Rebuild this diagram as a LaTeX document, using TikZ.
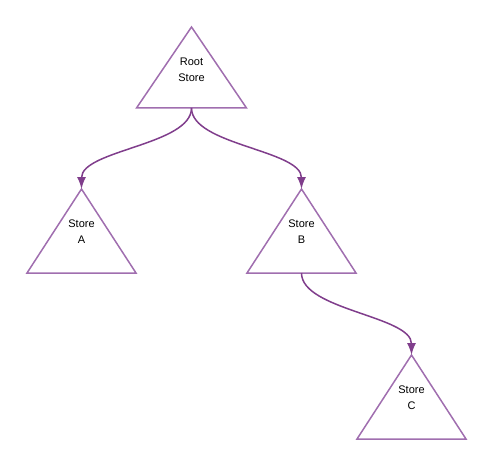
\documentclass[tikz,border=0pt]{standalone}
\usepackage{fontspec}
\setmainfont{Liberation Sans}
\usetikzlibrary{arrows.meta}
\definecolor{triline}{RGB}{160,110,175}
\definecolor{edgeline}{RGB}{128,62,140}
\begin{document}
\begin{tikzpicture}[x=1pt,y=-1pt,
  tri/.style={draw=triline,line width=1.5pt,line join=miter},
  lbl/.style={align=center,font=\fontsize{11}{16}\selectfont,inner sep=0pt},
  edge/.style={draw=edgeline,line width=1.5pt,-{Latex[length=12pt,width=9pt]}}]
\useasboundingbox (0,0) rectangle (495,468);
% Root
\coordinate (rtop) at (191.5,27);
\coordinate (rbot) at (191.5,108);
\draw[tri] (rtop) -- (246.5,108) -- (136.5,108) -- cycle;
\node[lbl] (root) at (191.5,70) {Root\\Store};
% Store A
\coordinate (atop) at (81.5,189);
\coordinate (abot) at (81.5,273);
\draw[tri] (atop) -- (136,273) -- (27,273) -- cycle;
\node[lbl] (sa) at (81.5,232) {Store\\A};
% Store B
\coordinate (btop) at (301.5,189);
\coordinate (bbot) at (301.5,273);
\draw[tri] (btop) -- (356,273) -- (247,273) -- cycle;
\node[lbl] (sb) at (301.5,232) {Store\\B};
% Store C
\coordinate (ctop) at (411.5,355);
\coordinate (cbot) at (411.5,439);
\draw[tri] (ctop) -- (466,439) -- (357,439) -- cycle;
\node[lbl] (sc) at (411.5,398) {Store\\C};
% connectors
\draw[edge] (rbot) .. controls (191.5,145) and (81.5,150) .. (atop);
\draw[edge] (rbot) .. controls (191.5,145) and (301.5,150) .. (btop);
\draw[edge] (bbot) .. controls (301.5,310) and (411.5,316) .. (ctop);
\end{tikzpicture}
\end{document}
